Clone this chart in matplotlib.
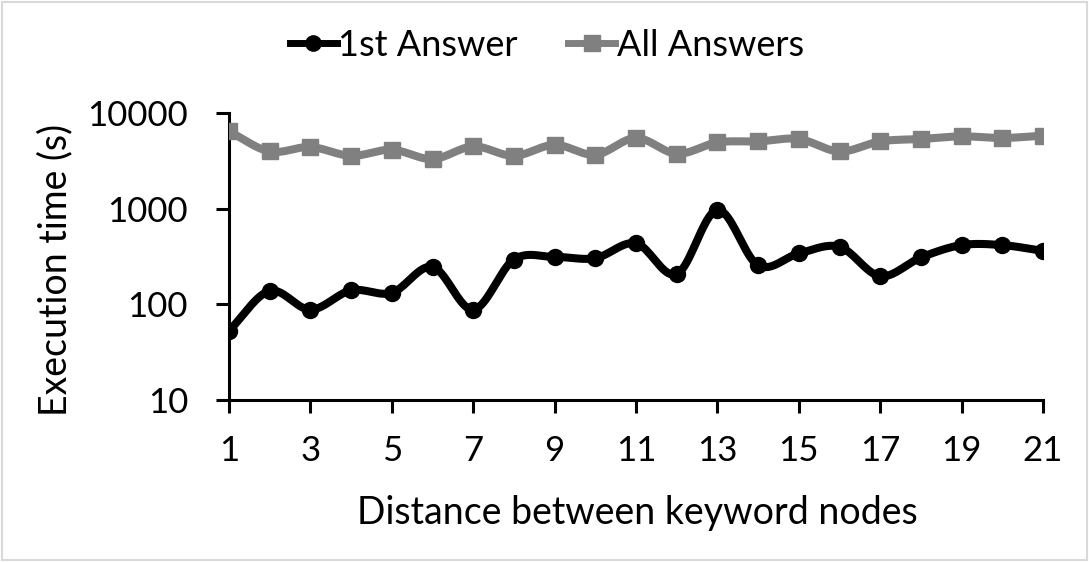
import numpy as np
import matplotlib
matplotlib.use("Agg")
import matplotlib.pyplot as plt
from matplotlib.patches import Rectangle

plt.rcParams["font.family"] = ["Lato", "DejaVu Sans"]

# values (log scale)
distance = list(range(1, 22))
first_answer = [53, 138, 88, 140, 132, 246, 88, 294, 313, 304, 434,
                207, 968, 256, 340, 399, 197, 309, 416, 416, 362]
all_answers = [6430, 3960, 4410, 3570, 4130, 3300, 4470, 3570, 4650, 3660, 5480,
               3750, 4930, 5050, 5350, 3960, 5050, 5350, 5700, 5480, 5800]
xticks = list(range(1, 22, 2))
yticks = [10, 100, 1000, 10000]

C_FIRST = "#000000"
C_ALL = "#808080"
W, H = 1089, 562


def smooth(xs, ys, n=20):
    """Catmull-Rom through the points in (x, log10 y), like Excel's smoothed line."""
    x = np.asarray(xs, float)
    y = np.log10(np.asarray(ys, float))
    px = np.concatenate([[2 * x[0] - x[1]], x, [2 * x[-1] - x[-2]]])
    py = np.concatenate([[2 * y[0] - y[1]], y, [2 * y[-1] - y[-2]]])
    ox, oy = [], []
    t = np.linspace(0, 1, n, endpoint=False)
    for i in range(1, len(px) - 2):
        for p, o in ((px, ox), (py, oy)):
            p0, p1, p2, p3 = p[i - 1], p[i], p[i + 1], p[i + 2]
            o.extend(0.5 * (2 * p1 + (-p0 + p2) * t
                            + (2 * p0 - 5 * p1 + 4 * p2 - p3) * t ** 2
                            + (-p0 + 3 * p1 - 3 * p2 + p3) * t ** 3))
    ox.append(x[-1]); oy.append(y[-1])
    return np.array(ox), 10 ** np.array(oy)


fig = plt.figure(figsize=(W / 100, H / 100), dpi=100)
ax = fig.add_axes([229 / W, 1 - 400 / H, (1043 - 229) / W, (400 - 113) / H])

for ys, c, m, lab in ((first_answer, C_FIRST, "o", "1st Answer"),
                      (all_answers, C_ALL, "s", "All Answers")):
    sx, sy = smooth(distance, ys)
    ax.plot(sx, sy, color=c, lw=5.8, solid_capstyle="round", zorder=3)
    ax.plot(distance, ys, ls="none", marker=m, ms=11.5, color=c, zorder=4)
    ax.plot([], [], color=c, lw=5, marker=m, ms=11, label=lab)

ax.set_yscale("log")
ax.set_ylim(10, 10000)
ax.set_xlim(1, 21)
ax.set_xticks(xticks)
ax.set_xticklabels([str(v) for v in xticks])
ax.set_yticks(yticks)
ax.set_yticklabels([str(v) for v in yticks])
ax.yaxis.set_minor_locator(matplotlib.ticker.NullLocator())
ax.tick_params(axis="both", labelsize=25, width=2.2, length=9.5, direction="out",
               color="black")
ax.tick_params(axis="x", pad=16)
ax.tick_params(axis="y", pad=20)
ax.spines[["top", "right"]].set_visible(False)
for s in ("left", "bottom"):
    ax.spines[s].set_linewidth(2.2)

fig.text(637 / W, 1 - 513 / H, "Distance between keyword nodes", fontsize=27,
         ha="center", va="center")
fig.text(55 / W, 1 - 270 / H, "Execution time (s)", fontsize=27, rotation=90,
         ha="center", va="center")

handles, labels = ax.get_legend_handles_labels()
fig.legend(handles, labels, loc="center", bbox_to_anchor=(547 / W, 1 - 45 / H), ncol=2,
           frameon=False, fontsize=26, handlelength=1.3, handletextpad=0.05,
           columnspacing=1.4)

fig.add_artist(Rectangle((0.002, 0.003), 0.996, 0.994, transform=fig.transFigure,
                         fill=False, edgecolor="#d9d9d9", lw=1.5))

fig.savefig("out.png", dpi=100)
